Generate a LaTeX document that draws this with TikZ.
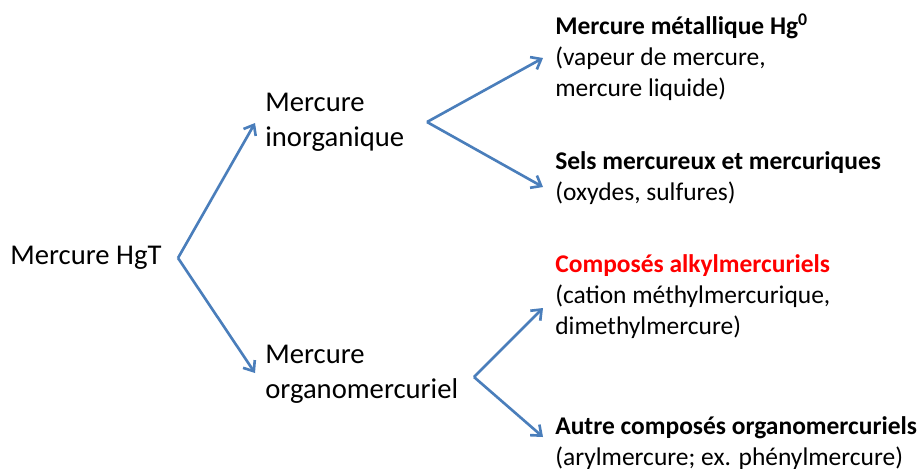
\documentclass[tikz,border=0pt]{standalone}
\usepackage{fontspec}
\setmainfont{Carlito}
\usepackage{xcolor}
\usetikzlibrary{arrows.meta}
\definecolor{arrowblue}{HTML}{4A7EBB}
\definecolor{alkred}{HTML}{FF0000}

\begin{document}
\begin{tikzpicture}[x=0.02cm, y=-0.02cm,
  textnode/.style={anchor=west, align=left, inner sep=0pt, font=\fontsize{14.5}{17.6}\selectfont},
  bignode/.style={textnode, font=\fontsize{16.3}{19.8}\selectfont},
  arrowline/.style={draw=arrowblue, line width=1.5pt, -{Straight Barb[length=5pt, width=8pt]}}]
\useasboundingbox (0,0) rectangle (920,468);
\node[bignode] at (10,258) (hgt) {Mercure HgT};
\node[bignode] at (265,122) (inorg) {Mercure\\inorganique};
\node[bignode] at (265,374) (organo) {Mercure\\organomercuriel};
\node[textnode] at (555,57) (metal) {\textbf{Mercure m\'etallique Hg\textsuperscript{0}}\\(vapeur de mercure,\\mercure liquide)};
\node[textnode] at (555,178) (sels) {\textbf{Sels mercureux et mercuriques}\\(oxydes, sulfures)};
\node[textnode] at (555,297) (alkyl) {\textcolor{alkred}{\textbf{Compos\'es alkylmercuriels}}\\(cation m\'ethylmercurique,\\dimethylmercure)};
\node[textnode] at (555,443) (autre) {\textbf{Autre compos\'es organomercuriels}\\(arylmercure; ex. ph\'enylmercure)};
% fork points
\coordinate (f0) at (178,258);
\coordinate (f1) at (427,122);
\coordinate (f2) at (474,377);
\draw[arrowline] (f0) -- ([shift={(-10,1)}]inorg.west);
\draw[arrowline] (f0) -- ([shift={(-10,-1)}]organo.west);
\draw[arrowline] (f1) -- ([shift={(-12,1)}]metal.west);
\draw[arrowline] (f1) -- ([shift={(-12,9)}]sels.west);
\draw[arrowline] (f2) -- ([shift={(-12,11)}]alkyl.west);
\draw[arrowline] (f2) -- ([shift={(-12,-6)}]autre.west);
\end{tikzpicture}
\end{document}
